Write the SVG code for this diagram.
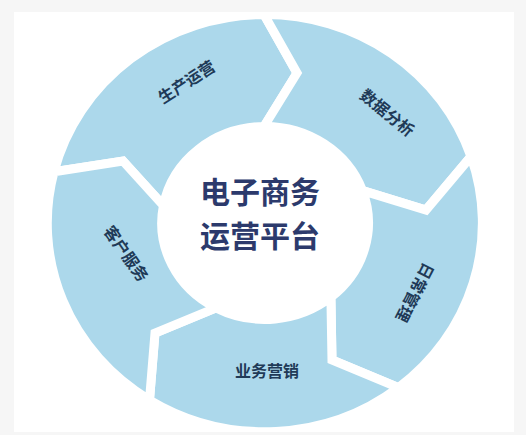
<svg xmlns="http://www.w3.org/2000/svg" width="526" height="435" viewBox="0 0 526 435">
<style>
.seg{fill:#acd8eb;stroke:#ffffff;stroke-width:9;stroke-linejoin:miter}
.lbl{font-family:"Noto Sans CJK SC","Noto Sans",sans-serif;font-weight:700;font-size:16px;fill:#1f3a57;text-anchor:middle;dominant-baseline:central}
.title{font-family:"Noto Sans CJK SC","Noto Sans",sans-serif;font-weight:700;font-size:30px;fill:#2c3a6c;text-anchor:middle}
</style>
<rect x="0" y="0" width="526" height="435" fill="#ffffff"/>
<g id="ring">
<g id="node-production">
<path class="seg" d="M54,171.8 A217.5,208.5 0 0 1 264,14.5 L297,73 L264,126.5 A103.5,96.5 0 0 0 163.4,205.6 L123,161 Z"/>
<text class="lbl" transform="translate(186,81) rotate(-33)">生产运营</text>
</g>
<g id="node-data">
<path class="seg" d="M264,14.5 A217.5,208.5 0 0 1 471,156.5 L426,210 L362.5,190.6 A103.5,96.5 0 0 0 264,126.5 L297,73 Z"/>
<text class="lbl" transform="translate(388,112) rotate(39)">数据分析</text>
</g>
<g id="node-daily">
<path class="seg" d="M471,156.5 A217.5,208.5 0 0 1 398.5,387.6 L332,360 L330.9,297.3 A103.5,96.5 0 0 0 362.5,190.6 L426,210 Z"/>
<text class="lbl" transform="translate(416,293) rotate(117)">日常管理</text>
</g>
<g id="node-marketing">
<path class="seg" d="M398.5,387.6 A217.5,208.5 0 0 1 149.5,400 L155,333 L216,307.9 A103.5,96.5 0 0 0 330.9,297.3 L332,360 Z"/>
<text class="lbl" x="267" y="370">业务营销</text>
</g>
<g id="node-service">
<path class="seg" d="M149.5,400 A217.5,208.5 0 0 1 54,171.8 L123,161 L163.4,205.6 A103.5,96.5 0 0 0 216,307.9 L155,333 Z"/>
<text class="lbl" transform="translate(127,253) rotate(55)">客户服务</text>
</g>
</g>
<g id="connectors"></g>
<g id="node-center">
<ellipse cx="265" cy="222.5" rx="104" ry="97" fill="#ffffff"/>
<text class="title" x="260" y="203">电子商务</text>
<text class="title" x="260" y="247">运营平台</text>
</g>
<path id="frame" fill="#f6f6f6" fill-rule="evenodd" d="M0,0 H526 V435 H0 Z M14,12 V432 H514 V12 Z"/>
</svg>
